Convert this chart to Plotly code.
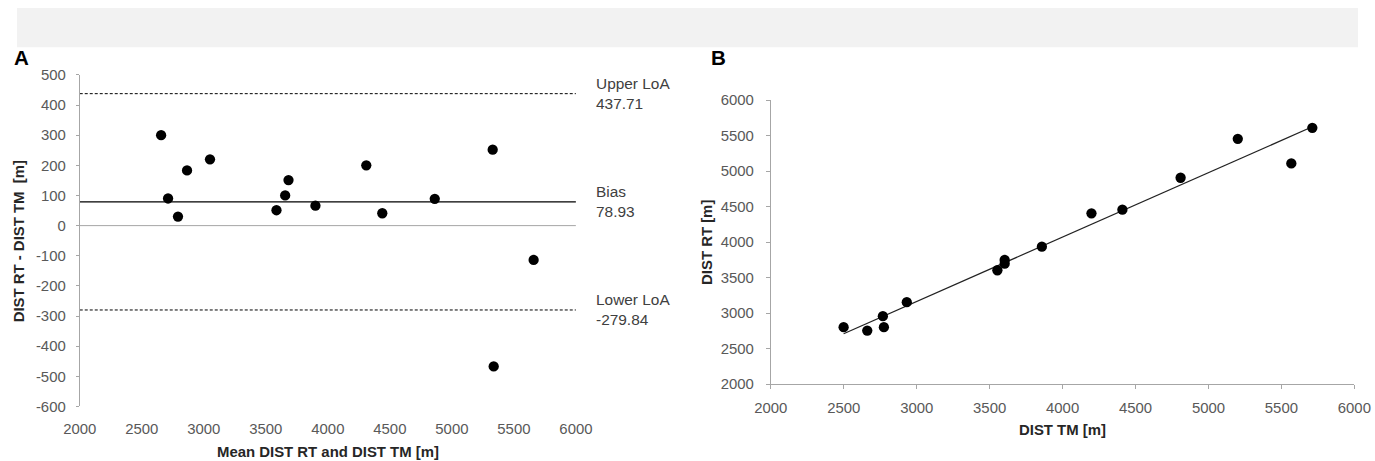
import numpy as np
import plotly.graph_objects as go

# Panel A: Bland-Altman data
mean_rt_tm = [2656, 2712, 2792, 2865, 3050, 3586, 3656, 3683, 3900, 4310, 4439, 4862, 5329, 5337, 5659]
diff_rt_tm = [300, 90, 30, 183, 220, 51, 100, 151, 66, 200, 41, 89, 252, -467, -114]
bias = 78.93
upper_loa = 437.71
lower_loa = -279.84
a_x_span = [2000, 6000]
a_y_ticks = [500, 400, 300, 200, 100, 0, -100, -200, -300, -400, -500, -600]

# Panel B: RT vs TM
dist_tm = [2499, 2661, 2768, 2775, 2932, 3553, 3603, 3603, 3858, 4198, 4410, 4809, 5201, 5568, 5712]
dist_rt = [2802, 2754, 2957, 2802, 3154, 3604, 3749, 3697, 3936, 4406, 4457, 4907, 5455, 5109, 5610]

W, H = 1375, 461
# the photographed page is framed (16px / 8px) and rescaled; compensate
FX, FY = 16, 8
SX, SY = W / (W + 2 * FX), H / (H + 2 * FY)
K = 1 / ((SX + SY) / 2)  # size compensation for fonts/markers

FONT = "Liberation Sans, Arial, sans-serif"
TICKC = "#595959"
AXC = "#a6a6a6"


def px(x):
    return (x / SX - FX) / W


def py(y):
    return 1 - (y / SY - FY) / H


fig = go.Figure()

# Panel A lines
fig.add_trace(go.Scatter(x=a_x_span, y=[0, 0], mode="lines",
                         line=dict(color="#a6a6a6", width=1), xaxis="x", yaxis="y", hoverinfo="skip"))
fig.add_trace(go.Scatter(x=a_x_span, y=[upper_loa, upper_loa], mode="lines",
                         line=dict(color="black", width=1, dash="3px,2px"), xaxis="x", yaxis="y"))
fig.add_trace(go.Scatter(x=a_x_span, y=[lower_loa, lower_loa], mode="lines",
                         line=dict(color="black", width=1, dash="3px,2px"), xaxis="x", yaxis="y"))
fig.add_trace(go.Scatter(x=a_x_span, y=[bias, bias], mode="lines",
                         line=dict(color="black", width=1.3), xaxis="x", yaxis="y"))
fig.add_trace(go.Scatter(x=mean_rt_tm, y=diff_rt_tm, mode="markers",
                         marker=dict(color="black", size=10 * K), xaxis="x", yaxis="y"))

# Panel B
slope, intercept = np.polyfit(dist_tm, dist_rt, 1)
fx = np.array([min(dist_tm), max(dist_tm)])
fig.add_trace(go.Scatter(x=fx, y=slope * fx + intercept, mode="lines",
                         line=dict(color="#222222", width=1.2), xaxis="x2", yaxis="y2"))
fig.add_trace(go.Scatter(x=dist_tm, y=dist_rt, mode="markers",
                         marker=dict(color="black", size=10 * K), xaxis="x2", yaxis="y2"))

tickfont = dict(family=FONT, size=14.5 * K, color=TICKC)

fig.update_layout(
    width=W, height=H,
    margin=dict(l=0, r=0, t=0, b=0),
    paper_bgcolor="white", plot_bgcolor="white",
    showlegend=False,
    font=dict(family=FONT),
    xaxis=dict(domain=[px(78.5), px(575.7)], anchor="y", range=[2000, 6000], dtick=500,
               showline=False, ticks="", showgrid=False, zeroline=False,
               tickfont=tickfont, ticklabelstandoff=12),
    yaxis=dict(domain=[py(406.7), py(74.7)], anchor="x", range=[-600, 500],
               tickmode="array", tickvals=a_y_ticks, ticktext=[str(v) for v in a_y_ticks],
               showline=True, linecolor=AXC, linewidth=1, ticks="outside", ticklen=3,
               tickcolor=AXC, showgrid=False, zeroline=False, tickfont=tickfont,
               ticklabelstandoff=7),
    xaxis2=dict(domain=[px(771), px(1355.7)], anchor="y2", range=[2000, 6000], dtick=500,
                showline=True, linecolor=AXC, linewidth=1, ticks="outside", ticklen=4,
                tickcolor=AXC, showgrid=False, zeroline=False, tickfont=tickfont,
                ticklabelstandoff=6),
    yaxis2=dict(domain=[py(384.3), py(100)], anchor="x2", range=[2000, 6000], dtick=500,
                showline=True, linecolor=AXC, linewidth=1, ticks="outside", ticklen=4,
                tickcolor=AXC, showgrid=False, zeroline=False, tickfont=tickfont,
                ticklabelstandoff=9),
)

# top gray band
fig.add_shape(type="rect", xref="paper", yref="paper", x0=0, x1=1, y0=py(47), y1=1,
              fillcolor="#f2f2f2", line=dict(width=0), layer="below")

anns = []
anns.append(dict(text="<b>A</b>", x=px(11), y=py(57.5), xanchor="left", yanchor="middle",
                 font=dict(size=20 * K, color="black", family=FONT)))
anns.append(dict(text="<b>B</b>", x=px(709), y=py(57.5), xanchor="left", yanchor="middle",
                 font=dict(size=20 * K, color="black", family=FONT)))
titlefont = dict(size=14.5 * K, color="#262626", family=FONT)
anns.append(dict(text="<b>Mean DIST RT and DIST TM [m]</b>", x=px(327), y=py(452),
                 xanchor="center", yanchor="middle", font=titlefont))
anns.append(dict(text="<b>DIST RT - DIST TM  [m]</b>", x=px(18), y=py(241), textangle=-90,
                 xanchor="center", yanchor="middle", font=titlefont))
anns.append(dict(text="<b>DIST TM [m]</b>", x=px(1063), y=py(430),
                 xanchor="center", yanchor="middle", font=titlefont))
anns.append(dict(text="<b>DIST RT [m]</b>", x=px(707), y=py(242), textangle=-90,
                 xanchor="center", yanchor="middle", font=titlefont))
for a in anns:
    a.update(xref="paper", yref="paper", showarrow=False)

labfont = dict(size=15 * K, color="#404040", family=FONT)
for txt, yv in [("Upper LoA<br>%.2f" % upper_loa, upper_loa),
                ("Bias<br>%.2f" % bias, bias),
                ("Lower LoA<br>%.2f" % lower_loa, lower_loa)]:
    anns.append(dict(text=txt, xref="x domain", yref="y", x=(594.3 - 78.5) / (575.7 - 78.5), y=yv,
                     xanchor="left", yanchor="middle", align="left", showarrow=False, font=labfont))

fig.update_layout(annotations=anns)

page_js = "document.body.style.margin='0';document.body.style.overflow='hidden';"
fig.write_html("out.html", config={"displayModeBar": False}, post_script=page_js)
